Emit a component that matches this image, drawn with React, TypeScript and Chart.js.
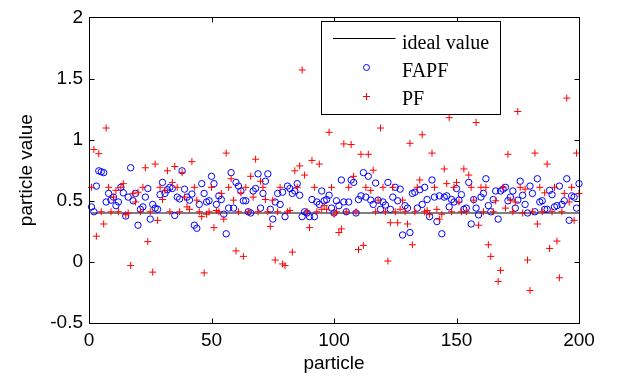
import React, { useEffect, useRef } from "react";
import { Chart, registerables } from "chart.js";

Chart.register(...registerables);

// ---- data ----
const particles: number[] = Array.from({ length: 200 }, (_, i) => i + 1);
const idealValue = 0.4;

const fapfValues: number[] = [
  0.45, 0.41, 0.62, 0.745, 0.737, 0.73, 0.49, 0.56, 0.505, 0.53,
  0.46, 0.49, 0.61, 0.565, 0.375, 0.53, 0.77, 0.50, 0.56, 0.30,
  0.43, 0.45, 0.53, 0.60, 0.35, 0.47, 0.44, 0.43, 0.55, 0.65,
  0.56, 0.59, 0.61, 0.60, 0.38, 0.53, 0.515, 0.745, 0.595, 0.53,
  0.505, 0.555, 0.30, 0.275, 0.47, 0.64, 0.56, 0.49, 0.50, 0.70,
  0.64, 0.47, 0.54, 0.51, 0.39, 0.23, 0.44, 0.73, 0.44, 0.65,
  0.62, 0.58, 0.50, 0.50, 0.41, 0.40, 0.58, 0.60, 0.72, 0.44,
  0.56, 0.66, 0.72, 0.43, 0.35, 0.49, 0.56, 0.47, 0.57, 0.37,
  0.62, 0.60, 0.56, 0.58, 0.64, 0.545, 0.37, 0.41, 0.40, 0.37,
  0.51, 0.37, 0.49, 0.47, 0.58, 0.50, 0.51, 0.545, 0.44, 0.40,
  0.50, 0.46, 0.67, 0.49, 0.41, 0.49, 0.67, 0.65, 0.40, 0.51,
  0.54, 0.73, 0.53, 0.70, 0.505, 0.47, 0.645, 0.505, 0.43, 0.49,
  0.465, 0.65, 0.43, 0.53, 0.61, 0.50, 0.595, 0.22, 0.46, 0.44,
  0.24, 0.56, 0.57, 0.44, 0.59, 0.47, 0.61, 0.51, 0.37, 0.67,
  0.53, 0.33, 0.54, 0.23, 0.53, 0.54, 0.45, 0.51, 0.49, 0.60,
  0.505, 0.55, 0.43, 0.44, 0.65, 0.31, 0.51, 0.44, 0.385, 0.53,
  0.56, 0.68, 0.46, 0.41, 0.51, 0.58, 0.35, 0.58, 0.595, 0.61,
  0.50, 0.53, 0.58, 0.44, 0.505, 0.66, 0.545, 0.47, 0.40, 0.62,
  0.56, 0.41, 0.68, 0.49, 0.50, 0.43, 0.43, 0.585, 0.55, 0.45,
  0.46, 0.62, 0.47, 0.50, 0.68, 0.34, 0.54, 0.53, 0.44, 0.64,
];

const pfValues: number[] = [
  0.61, 0.92, 0.21, 0.885, 0.41, 0.31, 1.095, 0.61, 0.41, 0.53,
  0.585, 0.41, 0.61, 0.64, 0.386, 0.40, -0.03, 0.56, 0.49, 0.57,
  0.41, 0.61, 0.77, 0.166, 0.41, -0.084, 0.80, 0.34, 0.61, 0.51,
  0.585, 0.745, 0.41, 0.65, 0.78, 0.61, 0.41, 0.73, 0.53, 0.45,
  0.43, 0.82, 0.61, 0.505, 0.41, 0.37, -0.09, 0.39, 0.41, 0.61,
  0.28, 0.42, 0.41, 0.56, 0.35, 0.89, 0.61, 0.68, 0.505, 0.09,
  0.41, 0.565, 0.045, 0.61, 0.41, 0.70, 0.53, 0.84, 0.41, 0.66,
  0.61, 0.51, 0.41, 0.29, 0.505, 0.015, 0.41, 0.61, -0.017, -0.03,
  0.41, 0.42, 0.08, 0.745, 0.61, 0.785, 1.57, 0.71, 0.41, 0.28,
  0.83, 0.61, 0.41, 0.80, 0.43, 0.46, 0.43, 1.06, 0.61, 0.39,
  0.41, 0.24, 0.27, 0.965, 0.41, 0.61, 0.96, 0.70, 0.41, 0.10,
  0.88, 0.135, 0.61, 0.88, 0.585, 0.75, 0.41, 0.505, 1.095, 0.61,
  0.41, 0.007, 0.32, 0.61, 0.41, 0.32, 0.43, 0.505, 0.41, 0.31,
  0.97, 0.14, 0.41, 0.61, 0.67, 1.04, 0.41, 0.42, 0.39, 0.89,
  0.61, 0.43, 0.35, 0.39, 0.76, 0.64, 1.18, 0.41, 0.61, 0.65,
  0.49, 0.41, 0.76, 0.41, 0.71, 0.61, 0.505, 1.14, 0.30, 0.61,
  0.41, 0.61, 0.14, 0.045, 0.41, 0.50, -0.16, -0.07, 0.61, 0.44,
  0.88, 0.505, 0.41, 0.49, 1.23, 0.61, 0.40, 0.595, 0.015, -0.235,
  0.41, 0.89, 0.31, 0.61, 0.41, 0.565, 0.80, 0.11, 0.41, 0.61,
  0.17, -0.13, 0.41, 0.56, 1.34, 0.49, 0.61, 0.34, 0.89, 0.56,
];

const xTicks: number[] = [0, 50, 100, 150, 200];
const yTicks: number[] = [-0.5, 0, 0.5, 1, 1.5, 2];
const seriesLabels: string[] = ["ideal value", "FAPF", "PF"];
const xTitle = "particle";
const yTitle = "particle value";

const SANS = "'Liberation Sans', Arial, sans-serif";
const SERIF = "'Liberation Serif', 'Times New Roman', serif";

const boxAndLegend = {
  id: "boxAndLegend",
  afterDatasetsDraw(chart: any) {
    const { ctx, chartArea: a, scales } = chart;
    const L = Math.round(a.left) + 0.5;
    const R = Math.round(a.right) + 0.5;
    const T = Math.round(a.top) + 0.5;
    const B = Math.round(a.bottom) + 0.5;
    ctx.save();
    ctx.strokeStyle = "#000";
    ctx.lineWidth = 1;
    const tl = 5;
    ctx.beginPath();
    xTicks.forEach((v) => {
      const x = Math.round(scales.x.getPixelForValue(v)) + 0.5;
      ctx.moveTo(x, B);
      ctx.lineTo(x, B - tl);
      ctx.moveTo(x, T);
      ctx.lineTo(x, T + tl);
    });
    yTicks.forEach((v) => {
      const y = Math.round(scales.y.getPixelForValue(v)) + 0.5;
      ctx.moveTo(L, y);
      ctx.lineTo(L + tl, y);
      ctx.moveTo(R, y);
      ctx.lineTo(R - tl, y);
    });
    ctx.stroke();
    ctx.strokeRect(L, T, R - L, B - T);

    // legend box
    const lx = L + 232;
    const ly = T + 4;
    const lw = 179;
    const lh = 93;
    ctx.fillStyle = "#fff";
    ctx.fillRect(lx, ly, lw, lh);
    ctx.strokeRect(lx, ly, lw, lh);

    const ds = chart.data.datasets;
    const sampleX0 = lx + 11.5;
    const sampleX1 = lx + 74;
    const markX = lx + 45;
    const textX = lx + 80.5;
    const rows = [ly + 17, ly + 46, ly + 75];
    const baselines = [ly + 27, ly + 55, ly + 83.5];

    // line sample
    ctx.strokeStyle = ds[0].borderColor;
    ctx.beginPath();
    ctx.moveTo(sampleX0, rows[0]);
    ctx.lineTo(sampleX1, rows[0]);
    ctx.stroke();
    // circle sample
    ctx.strokeStyle = ds[1].borderColor;
    ctx.beginPath();
    ctx.arc(markX, rows[1], 3, 0, Math.PI * 2);
    ctx.stroke();
    // plus sample
    ctx.strokeStyle = ds[2].borderColor;
    ctx.beginPath();
    ctx.moveTo(markX - 3.5, rows[2]);
    ctx.lineTo(markX + 3.5, rows[2]);
    ctx.moveTo(markX, rows[2] - 3.5);
    ctx.lineTo(markX, rows[2] + 3.5);
    ctx.stroke();

    ctx.fillStyle = "#000";
    ctx.font = `20px ${SERIF}`;
    ctx.textAlign = "left";
    ctx.textBaseline = "alphabetic";
    ds.forEach((d: any, i: number) => {
      ctx.fillText(d.label, textX, baselines[i]);
    });
    ctx.restore();
  },
};

export default function App() {
  const ref = useRef<HTMLCanvasElement | null>(null);

  useEffect(() => {
    if (!ref.current) return;
    const chart = new Chart(ref.current, {
      type: "scatter",
      data: {
        datasets: [
          {
            label: seriesLabels[0],
            data: particles.map((p) => ({ x: p, y: idealValue })),
            showLine: true,
            borderColor: "#000000",
            borderWidth: 1.2,
            pointRadius: 0,
            order: 2,
          } as any,
          {
            label: seriesLabels[1],
            data: particles.map((p, i) => ({ x: p, y: fapfValues[i] })),
            pointStyle: "circle",
            pointRadius: 3.2,
            pointBorderWidth: 1,
            borderColor: "#0000ff",
            backgroundColor: "rgba(0,0,0,0)",
            order: 1,
            clip: false,
          } as any,
          {
            label: seriesLabels[2],
            data: particles.map((p, i) => ({ x: p, y: pfValues[i] })),
            pointStyle: "cross",
            pointRadius: 3.5,
            pointBorderWidth: 1,
            borderColor: "#ff0000",
            backgroundColor: "#ff0000",
            order: 0,
            clip: false,
          } as any,
        ],
      },
      options: {
        animation: false,
        responsive: false,
        events: [],
        layout: { padding: { top: 9, right: 38, left: 0, bottom: 0 } },
        plugins: { legend: { display: false }, tooltip: { enabled: false } },
        scales: {
          x: {
            type: "linear",
            min: 0,
            max: 200,
            afterBuildTicks: (s: any) => {
              s.ticks = xTicks.map((v) => ({ value: v }));
            },
            afterFit: (s: any) => {
              s.height = 58;
            },
            grid: { display: false, drawTicks: false },
            border: { display: false },
            ticks: {
              color: "#000",
              font: { family: SANS, size: 19 },
              padding: 6,
              maxRotation: 0,
              autoSkip: false,
              callback: (v: any) => String(v),
            },
            title: {
              display: true,
              text: xTitle,
              color: "#000",
              font: { family: SANS, size: 19 },
              padding: { top: 0, bottom: 6 },
            },
          },
          y: {
            type: "linear",
            min: -0.5,
            max: 2,
            afterBuildTicks: (s: any) => {
              s.ticks = yTicks.map((v) => ({ value: v }));
            },
            afterFit: (s: any) => {
              s.width = 89;
            },
            grid: { display: false, drawTicks: false },
            border: { display: false },
            ticks: {
              color: "#000",
              font: { family: SANS, size: 19 },
              padding: 6,
              autoSkip: false,
              callback: (v: any) => String(v),
            },
            title: {
              display: true,
              text: yTitle,
              color: "#000",
              font: { family: SANS, size: 19 },
              padding: { top: 15, bottom: 0 },
            },
          },
        },
      },
      plugins: [boxAndLegend],
    } as any);
    return () => chart.destroy();
  }, []);

  return (
    <div style={{ position: "absolute", left: 0, top: 0, width: 617, height: 381, background: "#fff" }}>
      <canvas ref={ref} width={617} height={381} style={{ display: "block", width: 617, height: 381 }} />
    </div>
  );
}
